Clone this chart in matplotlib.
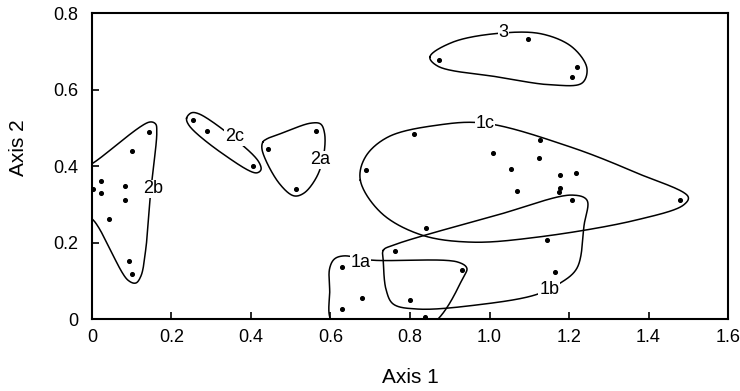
import numpy as np
import matplotlib
matplotlib.use("Agg")
import matplotlib.pyplot as plt

plt.rcParams["font.family"] = ["Liberation Sans", "DejaVu Sans"]

# sample scores on the two axes
axis1 = [0.143, 0.100, 0.023, 0.003, 0.023, 0.083, 0.083, 0.043, 0.093, 0.100,
         0.255, 0.290, 0.405,
         0.443, 0.563, 0.513,
         1.098, 0.873, 1.220, 1.208,
         0.810, 0.690, 1.008, 1.128, 1.125, 1.055, 1.178, 1.218, 1.178, 1.175,
         1.068, 1.208, 1.478, 0.840, 1.145, 0.763, 1.165,
         0.628, 0.930, 0.680, 0.800, 0.628, 0.838]
axis2 = [0.489, 0.439, 0.361, 0.340, 0.329, 0.348, 0.311, 0.261, 0.152, 0.118,
         0.520, 0.492, 0.400,
         0.444, 0.492, 0.340,
         0.732, 0.677, 0.659, 0.633,
         0.484, 0.390, 0.434, 0.468, 0.421, 0.392, 0.376, 0.382, 0.342, 0.332,
         0.335, 0.311, 0.311, 0.238, 0.207, 0.178, 0.123,
         0.136, 0.128, 0.055, 0.050, 0.026, 0.005]

# hand drawn group outlines (axis1, axis2)
outline_3 = [(0.850, 0.685), (0.908, 0.724), (1.035, 0.748), (1.133, 0.745),
             (1.208, 0.711), (1.245, 0.656), (1.233, 0.617), (1.158, 0.612),
             (1.020, 0.633), (0.870, 0.661)]
outline_1c = [(0.675, 0.363), (0.688, 0.424), (0.745, 0.476), (0.870, 0.507),
              (0.988, 0.512), (1.203, 0.450), (1.370, 0.382), (1.500, 0.319),
              (1.488, 0.298), (1.370, 0.259), (1.120, 0.214), (0.953, 0.201),
              (0.828, 0.220), (0.728, 0.277)]
outline_1b = [(0.733, 0.180), (0.758, 0.193), (1.020, 0.272), (1.208, 0.324),
              (1.245, 0.311), (1.238, 0.246), (1.220, 0.133), (1.175, 0.092),
              (1.115, 0.063), (0.970, 0.037), (0.820, 0.026), (0.758, 0.039),
              (0.740, 0.076), (0.733, 0.149)]
outline_1a = [(0.605, -0.010), (0.598, 0.076), (0.598, 0.133), (0.610, 0.157),
              (0.633, 0.165), (0.703, 0.154), (0.920, 0.149), (0.943, 0.133),
              (0.933, 0.107), (0.860, -0.010), (0.730, -0.060)]
outline_2b = [(-0.030, 0.390), (0.003, 0.408), (0.145, 0.515), (0.160, 0.510),
              (0.163, 0.489), (0.148, 0.337), (0.135, 0.180), (0.123, 0.112),
              (0.110, 0.094), (0.090, 0.102), (0.003, 0.259), (-0.030, 0.280)]
outline_2c = [(0.238, 0.525), (0.250, 0.539), (0.270, 0.536), (0.378, 0.455),
              (0.420, 0.410), (0.425, 0.390), (0.413, 0.382), (0.333, 0.429),
              (0.245, 0.505)]
outline_2a = [(0.430, 0.463), (0.428, 0.442), (0.470, 0.356), (0.508, 0.322),
              (0.533, 0.329), (0.565, 0.371), (0.583, 0.429), (0.585, 0.486),
              (0.575, 0.510), (0.550, 0.512), (0.478, 0.486), (0.440, 0.471)]

group_names = ["3", "1c", "1b", "1a", "2b", "2c", "2a"]
group_label_x = [1.035, 0.988, 1.150, 0.675, 0.153, 0.358, 0.575]
group_label_y = [0.748, 0.510, 0.076, 0.149, 0.340, 0.476, 0.416]


def closed_spline(pts, n=40, alpha=0.5):
    # centripetal Catmull-Rom through the outline vertices
    P = np.asarray(pts, dtype=float)
    m = len(P)
    out = []
    for i in range(m):
        p0, p1, p2, p3 = P[i - 1], P[i], P[(i + 1) % m], P[(i + 2) % m]
        t0 = 0.0
        t1 = t0 + np.linalg.norm(p1 - p0) ** alpha
        t2 = t1 + np.linalg.norm(p2 - p1) ** alpha
        t3 = t2 + np.linalg.norm(p3 - p2) ** alpha
        t = np.linspace(t1, t2, n, endpoint=False)[:, None]
        a1 = (t1 - t) / (t1 - t0) * p0 + (t - t0) / (t1 - t0) * p1
        a2 = (t2 - t) / (t2 - t1) * p1 + (t - t1) / (t2 - t1) * p2
        a3 = (t3 - t) / (t3 - t2) * p2 + (t - t2) / (t3 - t2) * p3
        b1 = (t2 - t) / (t2 - t0) * a1 + (t - t0) / (t2 - t0) * a2
        b2 = (t3 - t) / (t3 - t1) * a2 + (t - t1) / (t3 - t1) * a3
        out.append((t2 - t) / (t2 - t1) * b1 + (t - t1) / (t2 - t1) * b2)
    out = np.vstack(out)
    return np.vstack([out, out[:1]])


fig = plt.figure(figsize=(7.4, 3.91), dpi=100)
ax = fig.add_axes([0.1243, 0.1841, 0.8595, 0.7826])

for outline in [outline_3, outline_1c, outline_1b, outline_1a,
                outline_2b, outline_2c, outline_2a]:
    curve = closed_spline(outline)
    ax.plot(curve[:, 0], curve[:, 1], color="black", linewidth=1.1, zorder=2)

ax.scatter(axis1, axis2, s=7, color="black", zorder=3, clip_on=False)

for name, lx, ly in zip(group_names, group_label_x, group_label_y):
    ax.text(lx, ly, name, fontsize=13, ha="center", va="center", zorder=4,
            bbox=dict(facecolor="white", edgecolor="none", pad=0.5))

ax.set_xlim(0, 1.6)
ax.set_ylim(0, 0.8)
ax.set_xticks([0, 0.2, 0.4, 0.6, 0.8, 1.0, 1.2, 1.4, 1.6])
ax.set_xticklabels(["0", "0.2", "0.4", "0.6", "0.8", "1.0", "1.2", "1.4", "1.6"])
ax.set_yticks([0, 0.2, 0.4, 0.6, 0.8])
ax.set_yticklabels(["0", "0.2", "0.4", "0.6", "0.8"])
ax.tick_params(direction="in", length=5, width=1.2, labelsize=13)
ax.tick_params(axis="x", pad=7)
ax.tick_params(axis="y", pad=10)
for spine in ax.spines.values():
    spine.set_linewidth(1.5)

ax.set_xlabel("Axis 1", fontsize=15)
ax.set_ylabel("Axis 2", fontsize=15)
ax.xaxis.set_label_coords(0.5, -0.16)
ax.yaxis.set_label_coords(-0.1, 0.56)

fig.savefig("out.png", dpi=100)
